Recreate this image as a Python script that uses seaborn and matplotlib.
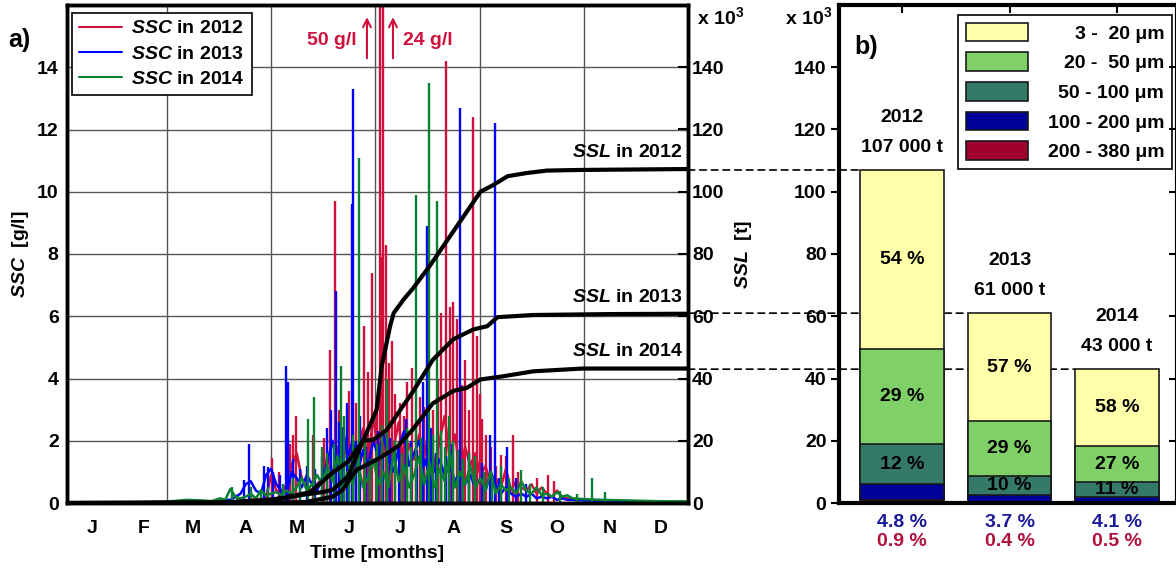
import numpy as np
import matplotlib
matplotlib.use("Agg")
import matplotlib.pyplot as plt
from matplotlib.lines import Line2D
from matplotlib.patches import Patch, ConnectionPatch
import seaborn as sns

# ---------------- data ----------------
months = ["J", "F", "M", "A", "M", "J", "J", "A", "S", "O", "N", "D"]
month_mid = [15, 45, 74, 105, 135, 166, 196, 227, 258, 288, 319, 349]
month_bounds = [59, 120, 181, 243, 304]

# SSC background (g/l), sampled on day numbers
lead_days = [0, 40, 60, 70, 80, 85]
main_days = list(range(90, 300, 3))
tail_days = [305, 315, 330, 345, 365]

ssc_2012 = ([0.02, 0.02, 0.03, 0.03, 0.04, 0.05]
            + [0.05, 0.05, 0.08, 0.05, 0.1, 0.08, 0.1, 0.15, 0.1, 0.2,
               0.9, 0.4, 0.3, 0.6, 1.2, 1.6, 0.8, 0.5, 0.4, 0.6,
               0.8, 1.5, 0.9, 1.8, 1.2, 2.2, 1.0, 1.6, 2.4, 1.3,
               2.8, 1.5, 2.0, 1.2, 1.8, 2.6, 1.1, 1.9, 1.4, 2.2,
               1.5, 2.4, 1.2, 2.0, 2.8, 1.4, 2.2, 1.0, 1.8, 1.2,
               1.6, 0.9, 1.2, 0.6, 0.8, 0.5, 1.1, 0.4, 0.7, 0.5,
               0.4, 0.6, 0.3, 0.5, 0.3, 0.2, 0.4, 0.2, 0.15, 0.1]
            + [0.1, 0.08, 0.06, 0.05, 0.04])
ssc_2013 = ([0.01, 0.01, 0.02, 0.06, 0.04, 0.05]
            + [0.05, 0.1, 0.1, 0.2, 0.3, 0.6, 0.7, 0.4, 0.3, 0.9,
               1.1, 0.6, 0.4, 0.3, 1.0, 0.8, 0.5, 0.9, 0.6, 0.4,
               0.8, 1.3, 2.0, 1.2, 2.4, 1.5, 2.0, 1.0, 1.7, 1.2,
               2.0, 1.5, 2.2, 1.4, 1.0, 1.8, 2.3, 1.2, 1.6, 2.0,
               1.2, 1.7, 1.0, 1.4, 0.9, 1.2, 0.7, 1.0, 0.6, 0.9,
               0.5, 0.8, 0.4, 1.0, 0.6, 0.3, 0.5, 0.3, 0.2, 0.3,
               0.2, 0.3, 0.15, 0.2, 0.15, 0.2, 0.1, 0.15, 0.1, 0.1]
            + [0.08, 0.05, 0.04, 0.03, 0.02])
ssc_2014 = ([0.02, 0.02, 0.05, 0.1, 0.08, 0.06]
            + [0.15, 0.1, 0.45, 0.2, 0.15, 0.2, 0.3, 0.15, 0.4, 0.25,
               0.3, 0.35, 0.25, 0.4, 0.3, 0.5, 0.8, 0.4, 0.6, 0.9,
               0.6, 1.2, 0.7, 1.5, 0.5, 1.0, 0.6, 1.3, 0.5, 0.8,
               1.4, 0.6, 1.0, 0.5, 1.6, 0.7, 1.2, 0.5, 0.9, 1.5,
               0.6, 1.3, 0.5, 1.1, 0.7, 1.6, 0.5, 1.0, 0.6, 1.2,
               0.5, 0.8, 0.4, 1.0, 0.3, 0.6, 0.4, 0.5, 0.3, 0.7,
               0.4, 0.3, 0.5, 0.25, 0.3, 0.2, 0.35, 0.2, 0.25, 0.15]
            + [0.12, 0.1, 0.08, 0.06, 0.05])

# SSC peaks (day, g/l)
peak_days_2012 = [120.5, 124.6, 131, 133, 134.6, 144.6, 151, 154.5, 157.5, 170, 174.6, 179,
                  182, 184, 185, 186, 187.5, 189, 193, 196, 203, 207.5, 215, 218, 220, 222.8,
                  225, 227, 229, 232, 238.6, 241, 242.7, 246, 255, 262, 283, 286,
                  160, 163, 166, 168, 177, 191, 198, 200, 205, 210, 212, 234, 236, 244,
                  249, 252, 258, 265, 276]
peak_vals_2012 = [1.45, 1.0, 1.9, 2.2, 2.8, 2.2, 2.1, 4.9, 9.7, 3.2, 5.7, 7.4,
                  3.4, 50, 7.9, 24, 8.3, 4.5, 3.5, 3.2, 4.35, 3.4, 3.0, 4.0, 6.1, 14.2,
                  6.3, 6.45, 5.9, 3.8, 12.4, 5.35, 3.5, 2.2, 1.55, 2.2, 0.9, 0.7,
                  3.0, 2.4, 3.6, 2.0, 4.2, 5.2, 2.8, 3.9, 2.6, 3.1, 2.2, 4.6, 3.0, 2.7,
                  1.8, 1.2, 1.5, 1.0, 0.8]
peak_days_2013 = [104, 107, 116, 118, 129, 130, 137, 141, 158, 160, 164.6, 167.5, 168,
                  172, 176, 199, 209, 211.5, 220, 231, 236, 248.6, 251.5, 258.6, 264,
                  121, 125, 133, 146, 150, 153, 155, 162, 170, 178, 183, 186, 190, 195,
                  202, 206, 214, 217, 223, 226, 240, 244, 254, 270]
peak_vals_2013 = [0.75, 1.9, 1.2, 1.15, 4.4, 3.9, 1.1, 1.2, 6.8, 2.6, 3.2, 9.6, 13.3,
                  2.8, 1.8, 2.7, 3.9, 8.9, 2.0, 12.7, 1.6, 2.2, 12.2, 1.8, 0.8,
                  1.0, 0.9, 1.4, 1.1, 1.5, 2.4, 3.0, 2.2, 2.0, 1.6, 2.3, 1.5, 2.1, 1.9,
                  2.0, 1.7, 2.4, 1.6, 1.5, 1.9, 0.9, 1.3, 0.8, 0.6]
peak_days_2014 = [97, 114, 141.6, 145, 150, 161, 163, 171.6, 175, 188, 193, 205, 212.8,
                  217.5, 220, 224.5, 230, 240, 267, 272, 308.6, 316,
                  100, 108, 118, 127, 133, 137, 153, 157, 166, 168, 178, 182, 185, 197,
                  200, 202, 208, 215, 222, 227, 233, 236, 245, 250, 255, 260, 280, 290, 300]
peak_vals_2014 = [0.5, 0.45, 2.7, 3.4, 1.8, 4.4, 2.8, 11.1, 2.2, 4.0, 2.0, 9.9, 13.5,
                  9.7, 2.3, 2.8, 1.7, 1.5, 1.05, 0.6, 0.8, 0.35,
                  0.2, 0.5, 0.5, 0.6, 0.8, 0.7, 1.6, 1.9, 1.5, 2.2, 1.4, 1.9, 2.5, 1.6,
                  2.4, 1.8, 2.1, 2.2, 1.8, 2.0, 1.4, 1.6, 1.0, 0.9, 1.2, 0.8, 0.5, 0.4, 0.3]

# cumulative SSL (x 10^3 t)
ssl_days_2012 = [0, 90, 120, 137, 150, 156, 165, 174, 182, 185, 190, 192, 198, 203,
                 213, 223, 233, 243, 250, 259, 270, 282, 301, 365]
ssl_2012 = [0, 0.1, 1.0, 2.5, 3.5, 4.2, 8.4, 20, 30, 44, 57, 61, 65.5, 68.7,
            76, 84, 92, 100, 102, 105, 106, 106.8, 107, 107.3]
ssl_days_2013 = [0, 100, 115, 127, 143, 156, 165, 174, 180, 188, 196, 203, 215, 227,
                 239, 247, 253, 274, 320, 365]
ssl_2013 = [0, 0.2, 0.8, 1.6, 3.5, 9.7, 13.2, 20, 20.3, 23.5, 30, 35.5, 46, 52.6,
            55.8, 56.8, 59.7, 60.4, 60.7, 60.8]
ssl_days_2014 = [0, 120, 140, 156, 162, 170, 182, 194, 203, 215, 227, 235, 243, 255,
                 274, 303, 365]
ssl_2014 = [0, 0.1, 0.3, 2, 4.2, 10.6, 13.9, 18, 23.5, 32, 36, 37, 39.7, 40.6,
            42.3, 43.2, 43.2]

# panel b
years = ["2012", "2013", "2014"]
totals = [107, 61, 43]
total_labels = ["107 000 t", "61 000 t", "43 000 t"]
classes = ["3 -  20 \u03bcm", "20 -  50 \u03bcm", "50 - 100 \u03bcm",
           "100 - 200 \u03bcm", "200 - 380 \u03bcm"]
pct_3_20 = [54, 57, 58]
pct_20_50 = [29, 29, 27]
pct_50_100 = [12, 10, 11]
pct_100_200 = [4.8, 3.7, 4.1]
pct_200_380 = [0.9, 0.4, 0.5]

# ---------------- style ----------------
RED = "#D2103C"
BLUE = "#0000FF"
GREEN = "#0A8032"
class_colors = ["#FFFFAA", "#80D068", "#357A68", "#000099", "#A0002E"]

sns.set_style("white")
plt.rcParams["font.family"] = ["Liberation Sans", "DejaVu Sans"]
plt.rcParams["font.weight"] = "bold"
plt.rcParams["font.size"] = 14
plt.rcParams["axes.labelweight"] = "bold"
plt.rcParams["mathtext.fontset"] = "custom"
plt.rcParams["mathtext.rm"] = "Liberation Sans:bold"
plt.rcParams["mathtext.it"] = "Liberation Sans:italic:bold"
plt.rcParams["mathtext.bf"] = "Liberation Sans:bold"
plt.rcParams["mathtext.default"] = "regular"
for key in ["text.color", "axes.labelcolor", "xtick.color", "ytick.color", "axes.edgecolor"]:
    plt.rcParams[key] = "black"

W, H = 1176, 574
fig = plt.figure(figsize=(W / 100, H / 100), dpi=100)
ax1 = fig.add_axes([67 / W, 71 / H, 621 / W, 498 / H])
ax2 = fig.add_axes([839 / W, 71 / H, 338 / W, 498 / H])

# ---------------- panel a ----------------
series = [
    (ssc_2012, peak_days_2012, peak_vals_2012, RED),
    (ssc_2013, peak_days_2013, peak_vals_2013, BLUE),
    (ssc_2014, peak_days_2014, peak_vals_2014, GREEN),
]
ssc_days = lead_days + main_days + tail_days
for vals, pdays, pvals, col in series:
    sns.lineplot(x=ssc_days, y=vals, ax=ax1, color=col, lw=1.8, estimator=None)
    ax1.vlines(pdays, 0, pvals, color=col, lw=1.7)

ax1.set_xlim(0, 365)
ax1.set_ylim(0, 16)
ax1.set_yticks(range(0, 15, 2))
ax1.set_xticks(month_mid)
ax1.set_xticklabels(months)
ax1.set_xticks(month_bounds, minor=True)
ax1.tick_params(axis="both", which="both", length=0)
ax1.tick_params(axis="x", pad=12)
ax1.tick_params(axis="y", pad=6)
ax1.grid(True, axis="y", which="major", color="#555555", lw=1.0)
ax1.grid(True, axis="x", which="minor", color="#555555", lw=1.0)
ax1.set_xlabel("Time [months]", labelpad=6)
ax1.set_ylabel(r"$\mathit{SSC}$  [g/l]", labelpad=4)
for s in ax1.spines.values():
    s.set_linewidth(2.5)

leg1 = ax1.legend(
    [Line2D([], [], color=c, lw=1.5) for c in (RED, BLUE, GREEN)],
    [r"$\mathit{SSC}$ in " + y for y in years],
    loc="upper left", bbox_to_anchor=(0.008, 0.984), borderaxespad=0,
    fancybox=False, framealpha=1, edgecolor="black", handlelength=2.2,
    handletextpad=0.5, labelspacing=0.4, borderpad=0.35,
)
leg1.get_frame().set_linewidth(1.2)

# off-scale peaks
for xt, lab, ha, xa in [(170.5, "50 g/l", "right", 176.3), (197.5, "24 g/l", "left", 191.6)]:
    ax1.text(xt, 14.85, lab, color=RED, ha=ha, va="center")
    ax1.annotate("", xy=(xa, 15.7), xytext=(xa, 14.2),
                 arrowprops=dict(arrowstyle="->", color=RED, lw=1.5))

ax1r = ax1.twinx()
for d, v, y in [(ssl_days_2012, ssl_2012, "2012"), (ssl_days_2013, ssl_2013, "2013"),
                (ssl_days_2014, ssl_2014, "2014")]:
    sns.lineplot(x=d, y=v, ax=ax1r, color="black", lw=3, estimator=None)
    ax1r.annotate(r"$\mathit{SSL}$ in " + y, xy=(362, v[-1]), xytext=(0, 12),
                  textcoords="offset points", ha="right", va="center")
ax1r.set_ylim(0, 160)
ax1r.set_yticks(range(0, 141, 20))
ax1r.tick_params(axis="y", direction="in", length=7, width=1.5, pad=3)
ax1r.set_ylabel(r"$\mathit{SSL}$  [t]", labelpad=6)
ax1r.yaxis.set_label_position("right")
for s in ax1r.spines.values():
    s.set_linewidth(2.5)
ax1r.text(1.015, 0.975, r"x 10$^3$", transform=ax1.transAxes, ha="left", va="center")
fig.text(8 / W, 1 - 40 / H, "a)", fontsize=18, va="center", ha="left")

# ---------------- panel b ----------------
pct_stack = [pct_3_20, pct_20_50, pct_50_100, pct_100_200, pct_200_380]
pct_sum = np.sum(pct_stack, axis=0)
heights = [np.array(p) / pct_sum * np.array(totals) for p in pct_stack]
# cumulative top of each class (coarse classes at the bottom)
tops = [np.sum(heights[i:], axis=0) for i in range(len(heights))]

for top, col in zip(tops, class_colors):
    sns.barplot(x=years, y=top, ax=ax2, color=col, saturation=1, width=0.78,
                edgecolor="#1a1a1a", linewidth=1.2, zorder=2)

ax2.set_xlim(-0.586, 2.558)
ax2.set_ylim(0, 160)
ax2.set_yticks(range(0, 141, 20))
ax2.set_xlabel("")
ax2.set_ylabel("")
ax2.patch.set_alpha(0)
ax2.tick_params(axis="x", bottom=False, top=True, direction="in", length=6, width=1.5,
                labelbottom=False)
ax2.tick_params(axis="y", left=True, direction="out", length=6, width=1.5, pad=3)
for s in ax2.spines.values():
    s.set_linewidth(3)
ax2r = ax2.twinx()
ax2r.set_ylim(0, 160)
ax2r.set_yticks(range(0, 141, 20))
ax2r.tick_params(axis="y", direction="in", length=6, width=1.5, labelright=False)
ax2r.spines[:].set_visible(False)

for i in range(len(years)):
    for k in range(3):
        ax2.text(i, tops[k][i] - heights[k][i] / 2, f"{pct_stack[k][i]:g} %",
                 ha="center", va="center", zorder=5)
    ax2.annotate(total_labels[i], xy=(i, totals[i]), xytext=(0, 16), textcoords="offset points",
                 ha="center", va="center")
    ax2.annotate(years[i], xy=(i, totals[i]), xytext=(0, 38), textcoords="offset points",
                 ha="center", va="center")
    ax2.annotate(f"{pct_100_200[i]:g} %", xy=(i, 0), xycoords=("data", "axes fraction"),
                 xytext=(0, -14), textcoords="offset points", ha="center", va="center",
                 color="#1a1a9a")
    ax2.annotate(f"{pct_200_380[i]:g} %", xy=(i, 0), xycoords=("data", "axes fraction"),
                 xytext=(0, -28), textcoords="offset points", ha="center", va="center",
                 color="#B0103A")

leg2 = ax2.legend(
    [Patch(facecolor=c, edgecolor="#1a1a1a", lw=1.2) for c in class_colors], classes,
    loc="upper right", bbox_to_anchor=(0.985, 0.98), borderaxespad=0,
    fancybox=False, framealpha=1, edgecolor="black", handlelength=3.2, handleheight=1.1,
    labelspacing=0.5, handletextpad=1.0, borderpad=0.4,
)
leg2.get_frame().set_linewidth(1.2)
leg2.set_zorder(10)
# right-align the legend labels
fig.canvas.draw()
renderer = fig.canvas.get_renderer()
widths = [t.get_window_extent(renderer).width for t in leg2.get_texts()]
for t, w in zip(leg2.get_texts(), widths):
    t.set_position((max(widths) - w, 0))

ax2.text(-0.02, 0.975, r"x 10$^3$", transform=ax2.transAxes, ha="right", va="center")
ax2.text(0.045, 0.915, "b)", transform=ax2.transAxes, fontsize=18, ha="left", va="center")

# dashed links from SSL end values to the bars
for i, tot in enumerate(totals):
    con = ConnectionPatch(xyA=(365, tot), coordsA=ax1r.transData,
                          xyB=(i - 0.39, tot), coordsB=ax2.transData,
                          linestyle=(0, (4, 3)), color="black", lw=1.2)
    con.set_zorder(-1)
    fig.add_artist(con)

fig.savefig("out.png", dpi=100)
